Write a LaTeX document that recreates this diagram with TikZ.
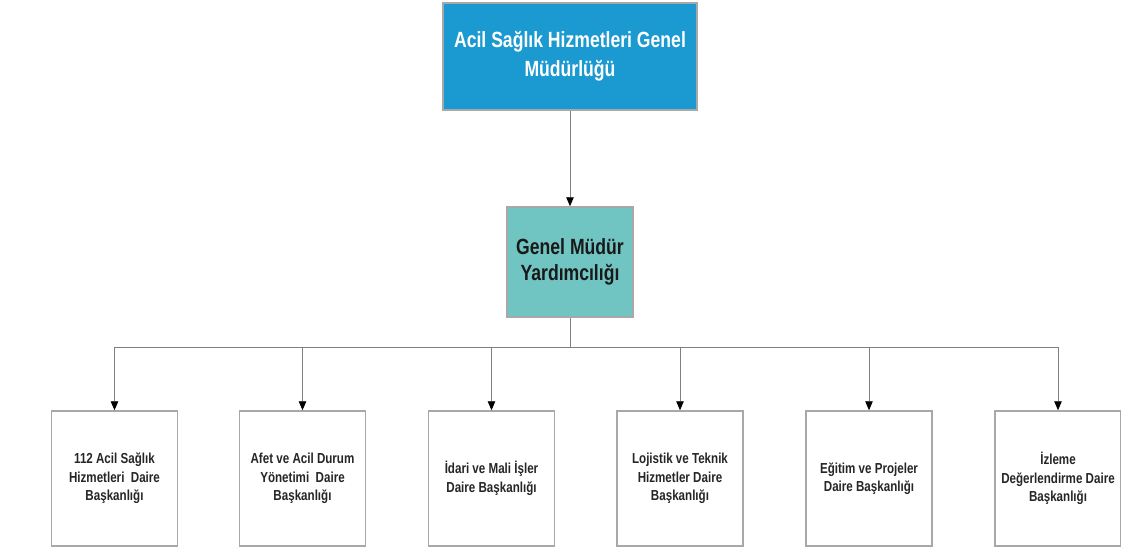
\documentclass[tikz,border=0pt]{standalone}
\usepackage{fontspec}
\setmainfont{Liberation Sans}
\newfontfamily\narfont[FakeStretch=0.8]{Liberation Sans}
\usetikzlibrary{arrows.meta}
\definecolor{topblue}{HTML}{1A9AD0}
\definecolor{midteal}{HTML}{70C4C2}
\definecolor{boxgray}{HTML}{A8A8A8}
\definecolor{linegray}{HTML}{808080}
\tikzset{
  topbox/.style={draw=boxgray, line width=1.5pt, fill=topblue, minimum width=254pt, minimum height=107pt,
    inner sep=0pt, align=center, text=white, font=\narfont\bfseries\fontsize{22}{29}\selectfont},
  midbox/.style={draw=boxgray, line width=1.5pt, fill=midteal, minimum width=126pt, minimum height=110pt,
    inner sep=0pt, align=center, text=black!90, font=\narfont\bfseries\fontsize{22}{26}\selectfont},
  unitbox/.style={draw=boxgray, line width=1.5pt, fill=white, minimum width=126pt, minimum height=135pt,
    inner sep=0pt, align=center, text=black!85, font=\narfont\bfseries\fontsize{14.5}{18.5}\selectfont},
  conn/.style={draw=linegray, line width=0.9pt},
  arr/.style={conn, -{Triangle[color=black, width=7.5pt, length=9pt]}}
}
\begin{document}
\begin{tikzpicture}[x=1pt, y=-1pt]
\useasboundingbox (0,0) rectangle (1121,551);
\node[topbox] (gm) at (570,56.5) {Acil Sağlık Hizmetleri Genel\\Müdürlüğü};
\node[midbox] (gmy) at (570,262) {Genel Müdür\\Yardımcılığı};
\node[unitbox] (u1) at (114.5,478.5) {112 Acil Sağlık\\Hizmetleri\ \ Daire\\Başkanlığı};
\node[unitbox] (u2) at (302.5,478.5) {Afet ve Acil Durum\\Yönetimi\ \ Daire\\Başkanlığı};
\node[unitbox] (u3) at (491.5,478.5) {İdari ve Mali İşler\\Daire Başkanlığı};
\node[unitbox] (u4) at (680,478.5) {Lojistik ve Teknik\\Hizmetler Daire\\Başkanlığı};
\node[unitbox] (u5) at (869,478.5) {Eğitim ve Projeler\\Daire Başkanlığı};
\node[unitbox] (u6) at (1058,478.5) {İzleme\\Değerlendirme Daire\\Başkanlığı};
\coordinate (bus) at (570,347);
\draw[arr] (gm.south) -- (gmy.north);
\draw[conn] (gmy.south) -- (bus);
\foreach \u in {u1,u2,u3,u4,u5,u6}{
  \draw[arr] (bus) -| (\u.north);
}
\end{tikzpicture}
\end{document}
